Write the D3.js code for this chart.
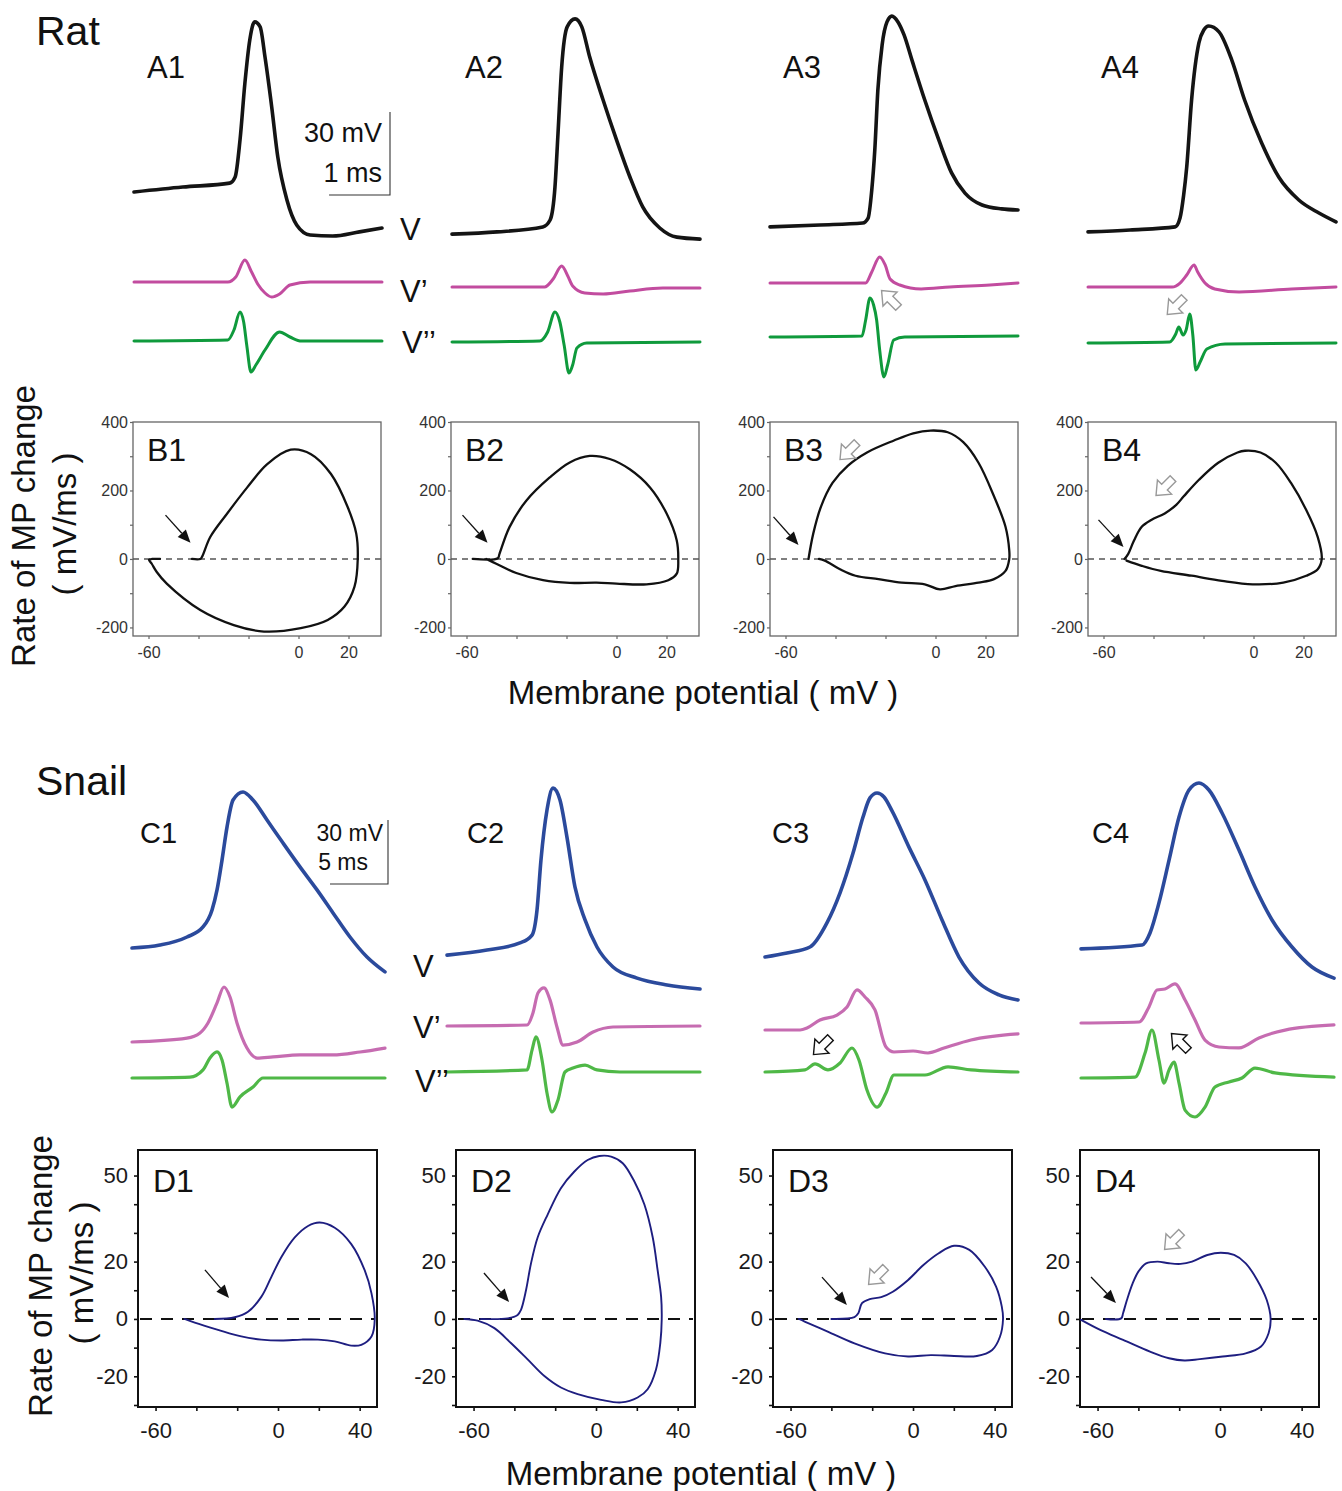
<!DOCTYPE html>
<html><head><meta charset="utf-8">
<script src="https://cdn.jsdelivr.net/npm/d3@7"></script>
<style>body{margin:0;background:#fff;} svg{display:block;}</style>
</head><body>
<svg id="fig" width="1342" height="1491"></svg>
<script>
// ===== DATA =====
// Rat traces: [time ms, value]; V in mV, V' in mV/ms, V'' in mV/ms^2
const A1_V = [[0,-40.7],[0.80,-38.9],[1.57,-37.5],[1.66,-35.3],[1.74,-21.9],[1.82,-1.4],[1.90,14.2],[1.98,20.7],[2.07,18.9],[2.15,8.0],[2.26,-10.0],[2.36,-28.1],[2.51,-43.6],[2.67,-52.6],[2.89,-56.2],[3.26,-56.6],[3.70,-55.1],[4.07,-53.7]];
const A1_Vp = [[0,0],[1.54,0],[1.67,73],[1.82,320],[1.93,145],[2.03,-29],[2.15,-160],[2.26,-218],[2.39,-174],[2.56,-44],[2.89,0],[4.07,0]];
const A1_Vpp = [[0,0],[1.54,100],[1.64,1100],[1.74,2900],[1.80,1900],[1.85,-400],[1.92,-3100],[2.0,-2400],[2.15,-900],[2.39,900],[2.56,400],[2.75,0],[4.07,0]];
const A2_V = [[0,-55.9],[0.74,-55.1],[1.49,-53.3],[1.61,-50.8],[1.69,-38.9],[1.74,-19.4],[1.80,4.4],[1.89,18.9],[2.02,21.8],[2.13,18.9],[2.26,8.0],[2.48,-7.5],[2.70,-21.9],[2.92,-35.3],[3.13,-46.1],[3.41,-53.7],[3.69,-57.0],[4.07,-57.7]];
const A2_Vp = [[0,0],[1.52,0],[1.66,116],[1.80,305],[1.90,160],[1.98,15],[2.18,-87],[2.48,-102],[2.92,-58],[3.46,-15],[4.07,-15]];
const A2_Vpp = [[0,0],[1.44,100],[1.57,1000],[1.69,3000],[1.77,2000],[1.84,-300],[1.92,-3100],[1.98,-2300],[2.05,-600],[2.21,-100],[4.07,0]];
const A3_V = [[0,-53.3],[0.82,-52.6],[1.52,-51.9],[1.61,-50.1],[1.67,-40.0],[1.72,-25.5],[1.77,-3.9],[1.84,12.4],[1.92,20.7],[2.00,22.8],[2.10,20.7],[2.20,16.0],[2.33,6.9],[2.54,-7.5],[2.77,-21.9],[2.98,-33.8],[3.20,-41.1],[3.48,-45.4],[3.80,-46.8],[4.07,-47.2]];
const A3_Vp = [[0,0],[1.57,0],[1.67,160],[1.80,378],[1.89,262],[1.97,58],[2.13,-29],[2.48,-87],[2.95,-58],[3.61,-29],[4.07,0]];
const A3_Vpp = [[0,0],[1.51,100],[1.57,1700],[1.64,3900],[1.70,3200],[1.75,1700],[1.80,-1300],[1.87,-4000],[1.93,-2800],[2.03,-300],[2.21,0],[4.07,100]];
const A4_V = [[0,-55.1],[0.69,-54.4],[1.43,-53.3],[1.51,-50.1],[1.57,-41.8],[1.62,-31.7],[1.70,-7.5],[1.82,13.1],[1.90,17.8],[1.98,19.2],[2.15,17.1],[2.36,6.9],[2.57,-7.5],[2.85,-23.0],[3.13,-35.3],[3.46,-43.6],[3.79,-48.3],[4.07,-51.5]];
const A4_Vp = [[0,0],[1.38,0],[1.51,58],[1.62,174],[1.74,320],[1.80,218],[1.92,58],[2.08,-29],[2.48,-73],[3.34,-29],[4.07,0]];
const A4_Vpp = [[0,0],[1.34,100],[1.44,900],[1.49,1600],[1.56,800],[1.61,1300],[1.67,2900],[1.72,800],[1.77,-2700],[1.84,-1900],[1.95,-600],[2.25,-100],[4.07,0]];

// Snail traces: [time ms, value]
const C1_V = [[0,-53.6],[2.41,-52.2],[4.74,-48.4],[6.12,-43.7],[6.90,-35.7],[7.33,-26.3],[7.76,-12.3],[8.19,3.2],[8.71,15.9],[9.57,19.7],[10.43,15.9],[11.64,6.5],[13.02,-4.3],[14.48,-15.5],[15.95,-26.3],[17.33,-37.1],[18.79,-48.4],[20.26,-57.8],[21.81,-64.8]];
const C1_Vp = [[0,0],[4.74,2.4],[5.86,5.5],[6.55,11.6],[7.33,23.8],[7.93,33.5],[8.45,27.4],[9.05,11.6],[9.91,-3.7],[10.78,-9.8],[12.16,-9.1],[14.48,-7.9],[17.33,-7.9],[19.66,-6.1],[21.81,-3.7]];
const C1_Vpp = [[0,0],[5.0,0.3],[6.12,2.7],[6.72,6.7],[7.33,8.7],[7.76,6.0],[8.19,-1.7],[8.62,-9.7],[9.31,-6.3],[10.43,-3.0],[11.29,0],[21.81,0]];
const C2_V = [[0,-56.9],[3.45,-54.5],[6.29,-51.2],[7.33,-47.5],[7.76,-35.7],[8.10,-12.3],[8.62,11.2],[9.14,21.5],[9.74,15.9],[10.34,-1.5],[11.03,-24.9],[11.90,-40.4],[12.93,-53.1],[14.31,-62.5],[16.38,-67.7],[18.97,-70.9],[21.81,-72.8]];
const C2_Vp = [[0,0],[6.90,0.6],[7.41,7.9],[7.84,20.1],[8.36,23.2],[8.88,15.9],[9.48,-0.6],[10.0,-11.6],[11.21,-9.8],[12.59,-3.7],[14.31,-0.6],[21.81,0]];
const C2_Vpp = [[0,0],[6.90,0.7],[7.33,7.3],[7.67,11.7],[8.19,4.0],[8.62,-7.0],[9.05,-13.3],[9.57,-9.3],[10.17,0],[10.86,1.3],[11.90,2.3],[12.93,0.7],[14.91,0],[21.81,0]];
const C3_V = [[0,-57.8],[1.90,-55.9],[3.88,-53.1],[5.34,-41.8],[6.47,-27.7],[7.59,-9.0],[8.45,7.9],[9.05,16.9],[9.66,19.2],[10.26,17.3],[10.95,10.8],[12.41,-6.2],[13.79,-21.6],[15.26,-40.4],[16.72,-57.8],[18.45,-70.0],[20.17,-75.6],[21.81,-78.0]];
const C3_Vp = [[0,0],[3.02,0],[3.62,1.2],[4.74,6.1],[6.21,9.1],[7.07,14.0],[7.93,24.4],[8.62,20.1],[9.48,12.2],[10.43,-10.4],[11.12,-13.4],[12.76,-12.8],[14.05,-14.0],[15.43,-11.0],[17.76,-6.1],[21.81,-2.4]];
const C3_Vpp = [[0,0],[3.45,0.7],[4.31,2.7],[5.43,0.7],[6.47,3.0],[7.50,8.0],[8.10,4.0],[8.79,-6.0],[9.66,-11.7],[10.43,-7.0],[11.12,-1.0],[13.79,-1.0],[15.78,1.7],[17.76,0.7],[21.81,0]];
const C4_V = [[0,-54.0],[5.26,-52.2],[5.95,-46.5],[6.72,-32.4],[7.59,-12.3],[8.45,7.9],[9.31,20.6],[10.17,23.9],[11.03,20.6],[12.16,9.8],[13.62,-7.6],[15.0,-24.9],[16.47,-40.4],[18.19,-53.1],[19.91,-62.5],[21.81,-67.7]];
const C4_Vp = [[0,0],[5.0,0.6],[5.86,9.8],[6.55,20.1],[7.24,20.7],[8.10,23.8],[8.97,14.0],[9.83,1.8],[10.69,-10.4],[11.90,-14.6],[13.62,-15.2],[15.34,-9.1],[17.59,-4.3],[21.81,-1.2]];
const C4_Vpp = [[0,0],[4.66,0.3],[5.52,8.3],[6.12,16.0],[6.72,6.0],[7.16,-1.7],[7.59,2.7],[8.02,5.3],[8.45,-1.7],[8.97,-10.7],[9.83,-13.0],[10.69,-9.7],[11.55,-3.0],[12.76,-1.3],[13.88,0],[15.0,3.3],[16.72,1.7],[21.81,0.3]];

// Phase plots: [membrane potential mV, rate mV/ms]
const B1_loop = [[-42.6,0],[-39.3,0],[-38.6,6],[-35.3,64],[-28.6,132],[-20.5,209],[-12.5,277],[-3.1,319],[5.0,306],[13.0,248],[19.7,151],[23.1,74],[23.7,0],[22.4,-81],[18.4,-139],[11.7,-178],[0.9,-202],[-13.8,-212],[-25.9,-193],[-39.3,-149],[-52.7,-72],[-56.7,-38],[-58.7,-14],[-59.8,-2],[-58.5,0],[-55.4,0]];
const B2_loop = [[-57.5,0],[-47.5,2],[-46.8,15],[-42.8,93],[-36.1,170],[-26.7,238],[-18.7,282],[-10.7,301],[-2.7,292],[5.3,262],[13.4,209],[20.1,132],[24.1,54],[24.7,0],[24.1,-43],[20.7,-62],[12.0,-74],[0,-72],[-8.0,-69],[-18.7,-70],[-29.4,-62],[-40.1,-41],[-48.1,-14],[-52.1,0]];
const B3_loop = [[-50.8,0],[-48.9,74],[-45.8,153],[-41.2,222],[-35.1,272],[-27.4,311],[-16.6,346],[-8.9,367],[-2.0,375],[4.9,370],[11.1,341],[17.2,281],[23.4,183],[28.0,94],[29.5,25],[29.5,0],[28.0,-35],[23.4,-59],[17.2,-69],[8.0,-79],[1.8,-89],[-4.3,-74],[-13.5,-69],[-22.8,-59],[-32.0,-49],[-38.2,-30],[-44.3,-5],[-46.6,0]];
const B4_loop = [[-51.6,0],[-50.1,15],[-47.8,54],[-44.7,94],[-40.9,114],[-35.5,133],[-30.9,158],[-27.9,183],[-21.7,232],[-14.1,281],[-6.4,311],[-3.4,316],[2.8,311],[8.9,281],[15.0,222],[21.1,143],[25.7,64],[27.3,0],[25.7,-30],[21.1,-49],[11.9,-69],[-0.3,-74],[-12.6,-64],[-24.8,-49],[-37.1,-35],[-44.7,-20],[-50.8,-5]];
const D1_loop = [[-31.0,0],[-21.2,0.6],[-14.7,2.5],[-8.2,7.7],[-3.3,14.6],[1.6,21.5],[8.2,28.4],[14.7,32.4],[20.4,33.6],[27.8,31.8],[35.9,26.1],[42.5,16.9],[45.8,8.9],[47.4,0],[45.8,-6.1],[40.8,-9.0],[35.9,-9.3],[27.8,-7.8],[19.6,-7.2],[11.4,-7.2],[1.6,-7.5],[-8.2,-7.2],[-18.0,-6.1],[-29.4,-3.8],[-40.8,-1.3],[-45.8,0]];
const D2_loop = [[-56.4,0],[-43.3,0.2],[-38.4,1.4],[-36.8,3.1],[-34.3,10],[-31.9,19.2],[-28.6,28.4],[-23.7,36.4],[-17.2,45.6],[-10.6,51.4],[-4.1,55.4],[1.6,56.8],[7.4,56.6],[13.1,54.3],[18.8,47.9],[23.7,39.9],[27.8,28.4],[30.2,16.9],[31.9,7.7],[32.2,0],[31.5,-8.4],[29.4,-17.6],[25.3,-24.5],[20.4,-27.4],[12.3,-29.1],[2.5,-28.2],[-9.0,-26.2],[-17.2,-23.9],[-25.3,-19.9],[-33.5,-14.1],[-41.7,-8.4],[-49.8,-3.2],[-58.0,-0.6],[-64.5,0]];
const D3_loop = [[-40.0,0],[-28.7,0.6],[-26.8,2.0],[-25.0,5.5],[-21.2,6.9],[-15.6,7.6],[-9.9,9.5],[-2.4,13.6],[5.1,18.8],[12.6,22.9],[20.1,25.5],[27.6,24.1],[35.1,18.3],[40.7,11.3],[43.5,4.3],[44.1,0],[42.6,-6.2],[38.8,-10.8],[31.3,-12.9],[20.1,-12.9],[8.8,-12.6],[-2.4,-13.1],[-13.7,-12.0],[-28.7,-8.5],[-41.8,-4.4],[-53.1,-0.9],[-55.9,0]];
const D4_loop = [[-55.9,0],[-48.4,0.2],[-47.5,2.0],[-45.6,6.6],[-42.8,12.4],[-40.0,16.5],[-36.2,19.4],[-30.6,20.0],[-25.0,19.4],[-19.3,19.2],[-13.7,20.0],[-6.2,22.3],[0.4,23.1],[6.9,22.3],[12.6,19.4],[18.2,13.6],[22.9,6.6],[24.8,0],[23.8,-5.0],[20.1,-9.6],[12.6,-12.0],[1.3,-13.1],[-9.9,-14.0],[-17.4,-14.5],[-25.0,-13.7],[-34.3,-11.4],[-47.5,-7.3],[-58.7,-3.8],[-68.1,-0.3]];

// Ticks
const B_xTicks = [-60,-40,-20,0,20], B_xLabels = [-60,0,20];
const B_yTicks = [-200,-100,0,100,200,300,400], B_yLabels = [-200,0,200,400];
const D_xTicks = [-60,-40,-20,0,20,40], D_xLabels = [-60,0,40];
const D_yTicks = [-30,-20,-10,0,10,20,30,40,50], D_yLabels = [-20,0,20,50];

// Annotations (data units): [tailV, tailRate, tipV, tipRate]
const B_arrows = [[-53.2,128,-43.2,47],[-61.6,128,-51.6,47],[-64.8,123,-54.8,41],[-62,114,-52,35]];
const D_arrows = [[-35.8,17.1,-24,7.3],[-54.9,16,-42.6,5.9],[-44.6,14.6,-32.4,4.9],[-63.2,14.6,-51,5.6]];

const ratLabels = ["A1","A2","A3","A4"], snailLabels = ["C1","C2","C3","C4"];
const phaseRatLabels = ["B1","B2","B3","B4"], phaseSnailLabels = ["D1","D2","D3","D4"];

// ===== LAYOUT =====
const FONT = "'Liberation Sans', Arial, Helvetica, sans-serif";
const svg = d3.select('#fig');
const ratLeft = [134,452,770,1088], ratW = 248;
const ratVpBase = [282,287,283,287], ratVppBase = [341,342,337,343];
const snLeft = [132,447,765,1081], snW = 253;
const snVpBase = [1042,1026,1030,1023], snVppBase = [1078,1072,1072,1078];
const BLeft = [133,451,770,1088], BTop = 422, BW = 248, BH = 214;
const DLeft = [138,456,773,1080], DTop = 1150, DW = 239, DH = 257;

const COL = {ratV:'#141414', ratVp:'#c24c9f', ratVpp:'#0f9a3c', snV:'#2b4a9c', snVp:'#c66cb1', snVpp:'#4fb847', loopB:'#111', loopD:'#1e1e80'};

function txt(x,y,s,size,opt={}){
  const t = svg.append('text').attr('x',x).attr('y',y).text(s)
    .attr('font-family',FONT).attr('font-size',size).attr('fill',opt.fill||'#111')
    .attr('text-anchor',opt.anchor||'start');
  if(opt.transform) t.attr('transform',opt.transform);
  return t;
}
function drawLine(data,x,y,color,w,curve){
  svg.append('path').datum(data)
    .attr('d', d3.line().x(d=>x(d[0])).y(d=>y(d[1])).curve(curve||d3.curveMonotoneX))
    .attr('fill','none').attr('stroke',color).attr('stroke-width',w)
    .attr('stroke-linejoin','round').attr('stroke-linecap','round');
}
function solidArrow(x1,y1,x2,y2){
  const a = Math.atan2(y2-y1,x2-x1), hl=13, hw=5.5;
  const bx = x2-hl*Math.cos(a), by = y2-hl*Math.sin(a);
  svg.append('line').attr('x1',x1).attr('y1',y1).attr('x2',bx).attr('y2',by).attr('stroke','#111').attr('stroke-width',1.3);
  svg.append('path').attr('d',`M${x2},${y2}L${bx+hw*Math.sin(a)},${by-hw*Math.cos(a)}L${bx-hw*Math.sin(a)},${by+hw*Math.cos(a)}Z`).attr('fill','#111');
}
function hollowArrow(x,y,ang,color){
  svg.append('path').attr('d','M-12,-4L0,-4L0,-10L12,0L0,10L0,4L-12,4Z')
    .attr('transform',`translate(${x},${y}) rotate(${ang})`)
    .attr('fill','#fff').attr('stroke',color).attr('stroke-width',1.4).attr('stroke-linejoin','miter');
}

// ===== RAT TRACES =====
const ratV = [A1_V,A2_V,A3_V,A4_V], ratVp=[A1_Vp,A2_Vp,A3_Vp,A4_Vp], ratVpp=[A1_Vpp,A2_Vpp,A3_Vpp,A4_Vpp];
const ratVy = d3.scaleLinear().domain([-80,25]).range([10+105*2.77,10]);
const ratX = [];
for(let i=0;i<4;i++){
  const x = d3.scaleLinear().domain([0,4.07]).range([ratLeft[i],ratLeft[i]+ratW]);
  ratX.push(x);
  const yp = d3.scaleLinear().domain([0,320]).range([ratVpBase[i],ratVpBase[i]-22]);
  const ypp = d3.scaleLinear().domain([0,2900]).range([ratVppBase[i],ratVppBase[i]-29]);
  drawLine(ratVp[i],x,yp,COL.ratVp,3);
  drawLine(ratVpp[i],x,ypp,COL.ratVpp,3);
  drawLine(ratV[i],x,ratVy,COL.ratV,3.6);
  txt(ratLeft[i]+13,78,ratLabels[i],31);
}
// scale bar rat (1 ms, 30 mV)
{
  const x0=390,y0=195;
  const w = ratX[0](1)-ratX[0](0), h = ratVy(0)-ratVy(30);
  svg.append('path').attr('d',`M${x0-w},${y0}H${x0}V${y0-h}`).attr('fill','none').attr('stroke','#333').attr('stroke-width',1.1);
  txt(382,142,'30 mV',27,{anchor:'end'});
  txt(382,182,'1 ms',27,{anchor:'end'});
}
txt(400,240,'V',31); txt(400,302,'V’',31); txt(402,353,'V’’',31);
txt(36,45,'Rat',41);

// hollow arrows on rat traces (time ms, V' units)
{
  const yp2 = d3.scaleLinear().domain([0,320]).range([ratVpBase[2],ratVpBase[2]-22]);
  hollowArrow(ratX[2](1.97), yp2(-233), -135, '#999');
  const yp3 = d3.scaleLinear().domain([0,320]).range([ratVpBase[3],ratVpBase[3]-22]);
  hollowArrow(ratX[3](1.44), yp3(-276), 135, '#999');
}

// ===== B PHASE PLOTS =====
const Bloops = [B1_loop,B2_loop,B3_loop,B4_loop];
for(let i=0;i<4;i++){
  const x = d3.scaleLinear().domain([-66.2,33]).range([BLeft[i],BLeft[i]+BW]);
  const y = d3.scaleLinear().domain([-225,400]).range([BTop+BH,BTop]);
  svg.append('rect').attr('x',BLeft[i]).attr('y',BTop).attr('width',BW).attr('height',BH).attr('fill','none').attr('stroke','#666').attr('stroke-width',1.3);
  const ax = svg.append('g').attr('transform',`translate(0,${BTop+BH})`)
    .call(d3.axisBottom(x).tickValues(B_xTicks).tickSize(3).tickPadding(8).tickFormat(d=>B_xLabels.includes(d)?String(d):''));
  const ay = svg.append('g').attr('transform',`translate(${BLeft[i]},0)`)
    .call(d3.axisLeft(y).tickValues(B_yTicks).tickSize(3).tickPadding(2).tickFormat(d=>B_yLabels.includes(d)?String(d):''));
  [ax,ay].forEach(g=>{g.select('.domain').remove(); g.selectAll('line').attr('stroke','#666').attr('stroke-width',1.2);
    g.selectAll('text').attr('font-family',FONT).attr('font-size',16).attr('fill','#333');});
  svg.append('line').attr('x1',BLeft[i]).attr('x2',BLeft[i]+BW).attr('y1',y(0)).attr('y2',y(0))
    .attr('stroke','#555').attr('stroke-width',1.5).attr('stroke-dasharray','6,5');
  drawLine(Bloops[i],x,y,COL.loopB,2.3,d3.curveCatmullRom.alpha(0.5));
  const a = B_arrows[i];
  solidArrow(x(a[0]),y(a[1]),x(a[2]),y(a[3]));
  txt(BLeft[i]+14,461,phaseRatLabels[i],32);
  if(i===2) hollowArrow(x(-34.8),y(315),135,'#999');
  if(i===3) hollowArrow(x(-35.6),y(210),135,'#999');
}
txt(35,526,'Rate of MP change',33,{anchor:'middle',transform:'rotate(-90,35,526)'});
txt(76,524,'( mV/ms )',33,{anchor:'middle',transform:'rotate(-90,76,524)'});
txt(703,704,'Membrane potential ( mV )',33,{anchor:'middle'});

// ===== SNAIL TRACES =====
const snV=[C1_V,C2_V,C3_V,C4_V], snVp=[C1_Vp,C2_Vp,C3_Vp,C4_Vp], snVpp=[C1_Vpp,C2_Vpp,C3_Vpp,C4_Vpp];
const snVy = d3.scaleLinear().domain([-80,30]).range([770+110*2.13,770]);
const snX=[], snYp=[];
for(let i=0;i<4;i++){
  const x = d3.scaleLinear().domain([0,21.81]).range([snLeft[i],snLeft[i]+snW]);
  snX.push(x);
  const yp = d3.scaleLinear().domain([0,33.5]).range([snVpBase[i],snVpBase[i]-55]);
  snYp.push(yp);
  const ypp = d3.scaleLinear().domain([0,10]).range([snVppBase[i],snVppBase[i]-30]);
  drawLine(snVp[i],x,yp,COL.snVp,3.2);
  drawLine(snVpp[i],x,ypp,COL.snVpp,3.2);
  drawLine(snV[i],x,snVy,COL.snV,3.6);
  txt(snLeft[i]+[8,20,7,11][i],843,snailLabels[i],29);
}
{
  const x0=388,y0=884;
  const w = snX[0](5)-snX[0](0), h = snVy(0)-snVy(30);
  svg.append('path').attr('d',`M${x0-w},${y0}H${x0}V${y0-h}`).attr('fill','none').attr('stroke','#333').attr('stroke-width',1.1);
  txt(383,841,'30 mV',23,{anchor:'end'});
  txt(368,870,'5 ms',23,{anchor:'end'});
}
txt(413,977,'V',31); txt(413,1038,'V’',31); txt(415,1092,'V’’',31);
txt(36,795,'Snail',41);
hollowArrow(snX[2](4.91), snYp[2](-9.8), 135, '#111');
hollowArrow(snX[3](8.53), snYp[3](-11.6), -135, '#111');

// ===== D PHASE PLOTS =====
const Dloops=[D1_loop,D2_loop,D3_loop,D4_loop];
for(let i=0;i<4;i++){
  const x = d3.scaleLinear().domain([-68.6,48.5]).range([DLeft[i],DLeft[i]+DW]);
  const y = d3.scaleLinear().domain([-30.7,58.9]).range([DTop+DH,DTop]);
  const ax = svg.append('g').attr('transform',`translate(0,${DTop+DH})`)
    .call(d3.axisBottom(x).tickValues(D_xTicks).tickSize(4).tickPadding(11).tickFormat(d=>D_xLabels.includes(d)?String(d):''));
  const ay = svg.append('g').attr('transform',`translate(${DLeft[i]},0)`)
    .call(d3.axisLeft(y).tickValues(D_yTicks).tickSize(4).tickPadding(6).tickFormat(d=>D_yLabels.includes(d)?String(d):''));
  [ax,ay].forEach(g=>{g.select('.domain').remove(); g.selectAll('line').attr('stroke','#111').attr('stroke-width',1.6);
    g.selectAll('text').attr('font-family',FONT).attr('font-size',22).attr('fill','#1a1a1a');});
  svg.append('rect').attr('x',DLeft[i]).attr('y',DTop).attr('width',DW).attr('height',DH).attr('fill','none').attr('stroke','#111').attr('stroke-width',2);
  svg.append('line').attr('x1',DLeft[i]+2).attr('x2',DLeft[i]+DW-2).attr('y1',y(0)).attr('y2',y(0))
    .attr('stroke','#111').attr('stroke-width',2).attr('stroke-dasharray','12,9');
  drawLine(Dloops[i],x,y,COL.loopD,1.9,d3.curveCatmullRom.alpha(0.5));
  const a = D_arrows[i];
  solidArrow(x(a[0]),y(a[1]),x(a[2]),y(a[3]));
  txt(DLeft[i]+15,1192,phaseSnailLabels[i],32);
  if(i===2) hollowArrow(x(-17.6),y(15),135,'#999');
  if(i===3) hollowArrow(x(-23),y(27.2),135,'#999');
}
txt(52,1276,'Rate of MP change',33,{anchor:'middle',transform:'rotate(-90,52,1276)'});
txt(93,1273,'( mV/ms )',33,{anchor:'middle',transform:'rotate(-90,93,1273)'});
txt(701,1485,'Membrane potential ( mV )',33,{anchor:'middle'});
</script>
</body></html>
